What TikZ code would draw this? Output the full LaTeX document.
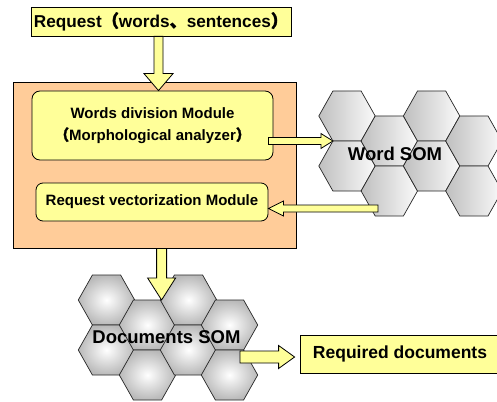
\documentclass[tikz,border=0pt]{standalone}
\usepackage{fontspec}
\setmainfont{Liberation Sans}
\newfontfamily\cjk{Noto Sans CJK JP}[FakeBold=2]
\usetikzlibrary{calc}

\definecolor{padyellow}{HTML}{FFFF99}
\definecolor{padorange}{HTML}{FFCC99}

\begin{document}
\begin{tikzpicture}[
  x=1pt, y=-1pt,
  panel/.style={draw, line width=0.8pt, inner sep=0pt},
  module/.style={panel, fill=padyellow, rounded corners=8pt, align=center,
    font=\bfseries\fontsize{15}{22}\selectfont},
  wordcell/.style={draw=black!85, line width=0.7pt, left color=gray!50, right color=gray!4},
  doccell/.style={draw=black!85, line width=0.7pt, inner color=white, outer color=gray!55},
  somlabel/.style={font=\bfseries\fontsize{18.5}{20}\selectfont, inner sep=0pt},
  fat/.style n args={3}{draw, fill=padyellow, line width=0.8pt, line join=miter,
    to path={let \p1=(\tikztostart), \p2=(\tikztotarget),
      \n1={veclen(\x2-\x1,\y2-\y1)}, \n2={(\x2-\x1)/\n1}, \n3={(\y2-\y1)/\n1} in
      (\x1-\n3*#1, \y1+\n2*#1)
      -- (\x2-\n2*#3-\n3*#1, \y2-\n3*#3+\n2*#1)
      -- (\x2-\n2*#3-\n3*#2, \y2-\n3*#3+\n2*#2)
      -- (\x2, \y2)
      -- (\x2-\n2*#3+\n3*#2, \y2-\n3*#3-\n2*#2)
      -- (\x2-\n2*#3+\n3*#1, \y2-\n3*#3-\n2*#1)
      -- (\x1+\n3*#1, \y1-\n2*#1) -- cycle}}
]
  \useasboundingbox (0,0) rectangle (497,401);

  % request and search engine
  \node[panel, fill=padyellow, minimum width=260pt, minimum height=29pt,
    font=\bfseries\fontsize{17.2}{20}\selectfont] (req) at (161,21.5)
    {Request{\cjk （}words{\cjk 、}sentences{\cjk ）}};
  \node[panel, fill=padorange, minimum width=283pt, minimum height=166pt] (engine) at (154.5,165) {};
  \node[module, minimum width=241pt, minimum height=69pt] (words) at (152.5,125.5)
    {Words division Module\\{\cjk （}Morphological analyzer{\cjk ）}};
  \node[module, rounded corners=7pt, minimum width=232pt, minimum height=38pt] (reqvec) at (152,202)
    {Request vectorization Module};

  % word map
  \foreach \cx/\cy in {347/116,347/166,389.3/141,389.3/191,431.6/116,431.6/166,473.9/141,473.9/191}
    \draw[wordcell] (\cx,\cy) +(0:28.2 and 28.87) -- +(60:28.2 and 28.87) -- +(120:28.2 and 28.87)
      -- +(180:28.2 and 28.87) -- +(240:28.2 and 28.87) -- +(300:28.2 and 28.87) -- cycle;
  \node[somlabel] (wsom) at (395,154) {Word SOM};

  % document map
  \foreach \cx/\cy in {106.5/300,106.5/350,147.5/325,147.5/375,188.5/300,188.5/350,229.5/325,229.5/375}
    \draw[doccell] (\cx,\cy) +(0:28.2 and 28.87) -- +(60:28.2 and 28.87) -- +(120:28.2 and 28.87)
      -- +(180:28.2 and 28.87) -- +(240:28.2 and 28.87) -- +(300:28.2 and 28.87) -- cycle;
  \node[somlabel] (dsom) at (166.5,337) {Documents SOM};

  \node[panel, fill=padyellow, minimum width=200pt, minimum height=38pt,
    font=\bfseries\fontsize{17.5}{20}\selectfont] (found) at (400,354) {Required documents};

  % connectors
  \coordinate (req-out) at ($(req.south)+(-2.5,0)$);
  \coordinate (wsom-in) at (332.9,141);
  \coordinate (wsom-out) at (378,208.5);
  \coordinate (dsom-in) at (161.6,300);
  \coordinate (dsom-out) at (240,357);
  \coordinate (words-out) at ($(words.east |- wsom-in)+(-5,0)$);
  \coordinate (found-in) at ($(found.west |- dsom-out)+(-5,0)$);

  \draw[fat={4.5}{14.5}{17}] (req-out) to (req-out |- words.north);
  \draw[fat={3.5}{7.5}{12}] (words-out) to (wsom-in);
  \draw[fat={3.5}{7.5}{15}] (wsom-out) to (reqvec.east |- wsom-out);
  \draw[fat={5}{14}{22}] (dsom-in |- engine.south) to (dsom-in);
  \draw[fat={6}{11.5}{16}] (dsom-out) to (found-in);
\end{tikzpicture}
\end{document}
